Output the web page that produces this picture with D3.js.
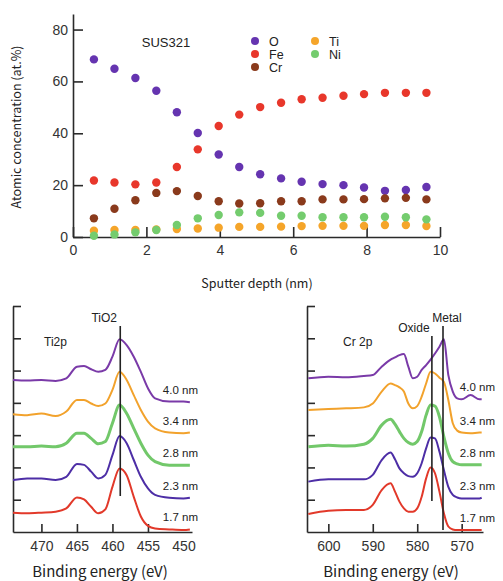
<!DOCTYPE html>
<html>
<head>
<meta charset="utf-8">
<script src="https://cdn.jsdelivr.net/npm/d3@7"></script>
<style>
  body { margin: 0; background: #fff; }
  svg { display: block; }
  .axis path, .axis line { stroke: #2a2a2a; stroke-width: 1.6px; }
  .axis text { fill: #333; font-family: "Liberation Sans", Arial, sans-serif; }
  .lbl { fill: #222; font-family: "Liberation Sans", Arial, sans-serif; }
  .jp { fill: #222; font-family: "Noto Sans CJK JP", sans-serif; }
</style>
</head>
<body>
<svg id="myGraph" width="503" height="581"></svg>
<script>
// 깊이 프로파일 데이터 (nm, at.%)
var depth = [0.57, 1.13, 1.70, 2.27, 2.83, 3.40, 3.97, 4.53, 5.10, 5.67, 6.23, 6.80, 7.37, 7.93, 8.50, 9.07, 9.63];
var oxygen = [68.5, 64.9, 61.3, 56.4, 48.1, 40.1, 31.8, 27.0, 24.2, 22.6, 21.3, 20.4, 20.0, 19.1, 17.8, 18.1, 19.3];
var iron = [21.8, 21.0, 20.3, 21.0, 27.0, 33.8, 42.8, 47.2, 50.1, 51.8, 53.1, 53.7, 54.5, 55.1, 55.6, 55.6, 55.6];
var chromium = [7.2, 10.9, 14.2, 17.0, 17.7, 15.8, 13.8, 12.9, 13.0, 13.8, 13.8, 14.5, 14.5, 14.6, 14.9, 15.1, 14.5];
var titanium = [2.4, 2.7, 2.7, 2.9, 3.1, 3.3, 3.6, 3.9, 3.9, 4.0, 4.2, 4.3, 4.3, 4.3, 4.6, 4.6, 4.2];
var nickel = [0.5, 1.0, 1.8, 2.7, 4.6, 7.2, 8.5, 9.5, 9.3, 8.2, 8.2, 7.6, 7.6, 7.6, 7.8, 7.6, 6.8];
var elemNames = ["O", "Fe", "Cr", "Ti", "Ni"];
var elemColors = ["#6534b0", "#e8372b", "#8a3a1c", "#f5a52a", "#74cc6e"];
var depthTicks = [0, 2, 4, 6, 8, 10];
var concTicks = [0, 20, 40, 60, 80];

// Ti 2p 스펙트럼 (eV, 임의 단위)
var tiEnergy = [474.0, 472, 470, 468, 466.5, 465, 464, 463, 462, 461, 460, 459, 458, 457, 456, 455, 454, 452, 450, 449.1];
var ti40 = [471, 469, 471, 468, 476, 512, 514, 504, 496, 502, 543, 597, 579, 543, 496, 445, 414, 404, 404, 402];
var ti34 = [365, 362, 367, 359, 373, 409, 409, 398, 390, 398, 440, 496, 471, 424, 378, 342, 321, 308, 306, 308];
var ti28 = [264, 264, 266, 264, 275, 306, 306, 290, 273, 280, 337, 393, 367, 321, 275, 238, 218, 207, 207, 207];
var ti23 = [161, 166, 166, 161, 171, 211, 208, 187, 166, 177, 238, 297, 275, 223, 171, 135, 115, 106, 104, 106];
var ti17 = [60, 58, 60, 63, 73, 107, 101, 78, 58, 70, 140, 197, 176, 109, 48, 19, 11, 8, 6, 8];
var tiTicks = [470, 465, 460, 455, 450];

// Cr 2p 스펙트럼
var crEnergy = [604.5, 600, 596, 592, 590, 588, 586, 585, 584, 583, 582, 581, 580, 579, 578, 577, 576, 575, 574, 573, 572, 571, 570, 568, 566, 565.5];
var cr40 = [476, 481, 479, 483, 486, 512, 534, 541, 548, 551, 512, 476, 481, 502, 517, 534, 553, 574, 597, 486, 435, 414, 411, 424, 411, 411];
var cr34 = [378, 381, 383, 386, 398, 435, 460, 455, 448, 435, 398, 383, 390, 419, 460, 496, 491, 478, 465, 409, 337, 314, 308, 306, 308, 308];
var cr28 = [264, 269, 266, 272, 290, 331, 349, 334, 311, 290, 277, 272, 280, 311, 362, 393, 390, 357, 295, 244, 218, 211, 208, 208, 208, 208];
var cr23 = [156, 163, 163, 163, 177, 223, 246, 225, 197, 182, 173, 171, 182, 213, 259, 293, 290, 249, 192, 140, 115, 107, 104, 104, 104, 106];
var cr17 = [56, 66, 68, 68, 84, 130, 151, 125, 94, 73, 63, 63, 73, 109, 166, 200, 182, 125, 58, 17, 8, 6, 6, 6, 6, 6];
var crTicks = [600, 590, 580, 570];

var sputterLabels = ["4.0 nm", "3.4 nm", "2.8 nm", "2.3 nm", "1.7 nm"];
var specColors = ["#7a3aa8", "#f2a22c", "#72c86a", "#4d2ea6", "#e2392a"];
var specWidths = [2, 2, 3, 2, 2];
var intensityTicks = [100, 200, 300, 400, 500, 600, 700];

var svg = d3.select("#myGraph");

// ---------- 상단: 원자 농도 ----------
var x = d3.scaleLinear().domain([0, 10]).range([73, 440]);
var y = d3.scaleLinear().domain([0, 86]).range([237, 14]);

svg.append("g")
   .attr("class", "axis")
   .attr("transform", "translate(0,237)")
   .call(d3.axisBottom(x).tickValues(depthTicks).tickSize(-10).tickSizeOuter(0).tickPadding(8))
   .selectAll("text").style("font-size", "14px");

svg.append("g")
   .attr("class", "axis")
   .attr("transform", "translate(73,0)")
   .call(d3.axisLeft(y).tickValues(concTicks).tickSize(-10).tickSizeOuter(0).tickPadding(5))
   .selectAll("text").style("font-size", "14px");

var series = [oxygen, iron, chromium, titanium, nickel];
series.forEach(function(vals, k){
  svg.append("g").selectAll("circle")
     .data(vals)
     .enter()
     .append("circle")
     .attr("cx", function(d, i){ return x(depth[i]); })
     .attr("cy", function(d){ return y(d); })
     .attr("r", 4.2)
     .attr("fill", elemColors[k]);
});

svg.append("text").attr("class", "lbl")
   .attr("x", 166).attr("y", 47)
   .attr("text-anchor", "middle").style("font-size", "13px")
   .text("SUS321");

// 범례
elemNames.forEach(function(n, i){
  var col = i < 3 ? 0 : 1;
  var row = i < 3 ? i : i - 3;
  var lx = col ? 315 : 255;
  var ly = 41 + row * 13;
  svg.append("circle").attr("cx", lx).attr("cy", ly).attr("r", 4).attr("fill", elemColors[i]);
  svg.append("text").attr("class", "lbl")
     .attr("x", lx + 14).attr("y", ly + 4.5)
     .style("font-size", "12.5px")
     .text(n);
});

svg.append("text").attr("class", "jp")
   .attr("transform", "translate(21,127) rotate(-90)")
   .attr("text-anchor", "middle").style("font-size", "12.5px")
   .text("Atomic concentration (at.%)");

svg.append("text").attr("class", "jp")
   .attr("x", 257).attr("y", 288)
   .attr("text-anchor", "middle").style("font-size", "12.5px")
   .text("Sputter depth (nm)");

// ---------- 하단: XPS 스펙트럼 ----------
function spectrumPanel(opt){
  var sx = d3.scaleLinear().domain(opt.domain).range(opt.range);
  var sy = d3.scaleLinear().domain([0, 700]).range([532, 306]);

  var xa = svg.append("g")
     .attr("class", "axis")
     .attr("transform", "translate(0,532)")
     .call(d3.axisBottom(sx).tickValues(opt.ticks).tickSize(-8).tickSizeOuter(0).tickPadding(9));
  xa.selectAll("text").style("font-size", "14px");
  xa.selectAll(".tick").filter(function(d){ return opt.noTick.indexOf(d) >= 0; })
    .select("line").remove();

  svg.append("g")
     .attr("class", "axis")
     .attr("transform", "translate(" + opt.range[0] + ",0)")
     .call(d3.axisLeft(sy).tickValues(intensityTicks).tickSize(-8).tickSizeOuter(0).tickFormat(""));

  var line = d3.line()
     .x(function(d, i){ return sx(opt.energy[i]); })
     .y(function(d){ return sy(d); })
     .curve(d3.curveMonotoneX);

  opt.spectra.forEach(function(vals, k){
    svg.append("path")
       .attr("d", line(vals))
       .attr("fill", "none")
       .attr("stroke", specColors[k])
       .attr("stroke-width", specWidths[k])
       .attr("stroke-linejoin", "round");
    svg.append("text").attr("class", "lbl")
       .attr("x", opt.labelX)
       .attr("y", sy(vals[vals.length - 1]) - 8)
       .attr("text-anchor", "end").style("font-size", "11.5px")
       .text(sputterLabels[k]);
  });

  opt.marks.forEach(function(m){
    svg.append("line")
       .attr("x1", sx(m.e)).attr("x2", sx(m.e))
       .attr("y1", m.top).attr("y2", m.bottom)
       .attr("stroke", "#222").attr("stroke-width", 1.6);
    svg.append("text").attr("class", "lbl")
       .attr("x", sx(m.e) + m.dx).attr("y", m.top - 4)
       .attr("text-anchor", "middle").style("font-size", "12px")
       .text(m.name);
  });

  svg.append("text").attr("class", "lbl")
     .attr("x", opt.titleX).attr("y", 346)
     .style("font-size", "12px")
     .text(opt.title);

  svg.append("text").attr("class", "jp")
     .attr("x", opt.xLabelX).attr("y", 577)
     .attr("text-anchor", "middle").style("font-size", "15px")
     .text("Binding energy (eV)");
}

spectrumPanel({
  domain: [474, 448.8], range: [13, 192],
  ticks: tiTicks, noTick: [450],
  energy: tiEnergy, spectra: [ti40, ti34, ti28, ti23, ti17],
  labelX: 198,
  marks: [{ name: "TiO2", e: 458.9, top: 326, bottom: 496, dx: -16 }],
  title: "Ti2p", titleX: 44, xLabelX: 100
});

spectrumPanel({
  domain: [604.8, 565.2], range: [307, 483],
  ticks: crTicks, noTick: [],
  energy: crEnergy, spectra: [cr40, cr34, cr28, cr23, cr17],
  labelX: 495,
  marks: [
    { name: "Oxide", e: 576.7, top: 336, bottom: 501, dx: -18 },
    { name: "Metal", e: 574.2, top: 326, bottom: 530, dx: 4 }
  ],
  title: "Cr 2p", titleX: 343, xLabelX: 391
});
</script>
</body>
</html>
